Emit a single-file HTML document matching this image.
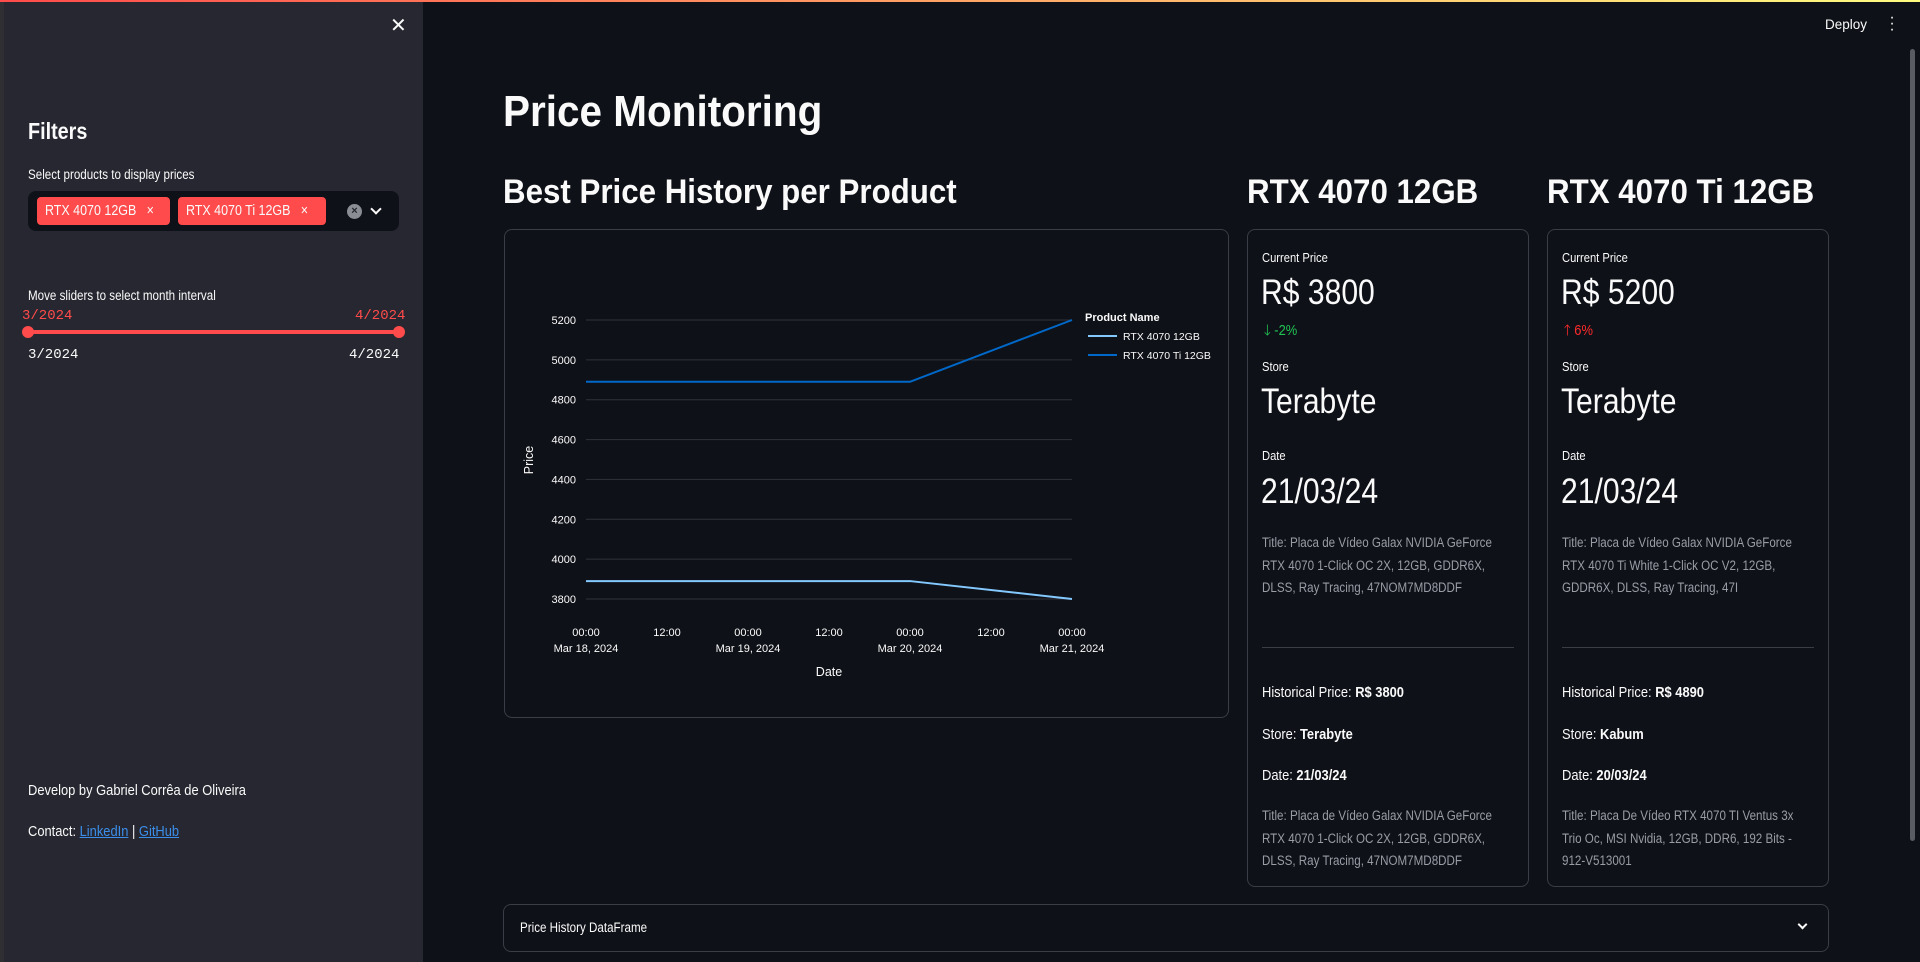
<!DOCTYPE html>
<html><head><meta charset="utf-8">
<style>
*{box-sizing:border-box;margin:0;padding:0}
body{width:1920px;height:962px;overflow:hidden;background:#0e1117;font-family:"Liberation Sans",sans-serif;color:#fafafa;position:relative}
.a{position:absolute;white-space:nowrap}
.c{display:inline-block;transform:scaleX(0.86);transform-origin:left center}
.h .c{transform:scaleX(0.92)}
.card{position:absolute;border:1px solid #3a3d46;border-radius:8px}
.mono{font-family:"Liberation Mono",monospace;font-size:14px}
</style></head><body>
<div class="a" style="left:0;top:0;width:1920px;height:2px;background:linear-gradient(90deg,#ff4b4b,#fffd80)"></div>
<div class="a" style="left:0;top:2px;width:423px;height:960px;background:#262730;border-left:4px solid #2e2e33"></div>
<div class="a" style="left:390px;top:13px;font-size:20px;color:#fafafa">✕</div>
<div class="a" style="left:28px;top:118px;font-size:23px;font-weight:bold"><span class="c">Filters</span></div>
<div class="a" style="left:28px;top:167px;font-size:13.5px"><span class="c">Select products to display prices</span></div>
<div class="a" style="left:28px;top:191px;width:371px;height:40px;background:#0e1117;border-radius:8px"></div>
<div class="a" style="left:37px;top:197px;width:133px;height:28px;background:#ff4b4b;border-radius:4px;font-size:14.5px;line-height:28px;padding-left:8px"><span class="c">RTX 4070 12GB <span style="margin-left:8px">×</span></span></div>
<div class="a" style="left:178px;top:197px;width:148px;height:28px;background:#ff4b4b;border-radius:4px;font-size:14.5px;line-height:28px;padding-left:8px"><span class="c">RTX 4070 Ti 12GB <span style="margin-left:8px">×</span></span></div>
<div class="a" style="left:347px;top:204px;width:15px;height:15px;border-radius:50%;background:#8b8d95;color:#262730;font-size:11px;line-height:15px;text-align:center;font-weight:bold">×</div>
<div class="a" style="left:372px;top:205px;width:8px;height:8px;border-right:2px solid #fafafa;border-bottom:2px solid #fafafa;transform:rotate(45deg)"></div>
<div class="a" style="left:28px;top:288px;font-size:13.5px"><span class="c">Move sliders to select month interval</span></div>
<div class="a mono" style="left:22px;top:308px;color:#ff4b4b">3/2024</div>
<div class="a mono" style="left:355px;top:308px;color:#ff4b4b">4/2024</div>
<div class="a" style="left:28px;top:330px;width:371px;height:4px;background:#ff4b4b;border-radius:2px"></div>
<div class="a" style="left:22px;top:326px;width:12px;height:12px;border-radius:50%;background:#ff4b4b"></div>
<div class="a" style="left:393px;top:326px;width:12px;height:12px;border-radius:50%;background:#ff4b4b"></div>
<div class="a mono" style="left:28px;top:347px">3/2024</div>
<div class="a mono" style="left:349px;top:347px">4/2024</div>
<div class="a" style="left:28px;top:782px;font-size:15px"><span class="c">Develop by Gabriel Corrêa de Oliveira</span></div>
<div class="a" style="left:28px;top:823px;font-size:15px"><span class="c">Contact: <span style="color:#3b8eea;text-decoration:underline">LinkedIn</span> | <span style="color:#3b8eea;text-decoration:underline">GitHub</span></span></div>

<div class="a" style="left:1825px;top:17px;font-size:13.5px">Deploy</div>
<div class="a" style="left:1889px;top:15px;font-size:16px;line-height:6px;width:6px;text-align:center">·<br>·<br>·</div>
<div class="a" style="left:1910px;top:49px;width:5px;height:792px;background:#5a5c63;border-radius:3px"></div>

<div class="a h" style="left:503px;top:87px;font-size:44px;font-weight:bold"><span class="c">Price Monitoring</span></div>
<div class="a h" style="left:503px;top:173px;font-size:34px;font-weight:bold"><span class="c">Best Price History per Product</span></div>
<div class="a h" style="left:1247px;top:173px;font-size:34px;font-weight:bold"><span class="c">RTX 4070 12GB</span></div>
<div class="a h" style="left:1547px;top:173px;font-size:34px;font-weight:bold"><span class="c">RTX 4070 Ti 12GB</span></div>

<div class="card" style="left:504px;top:229px;width:725px;height:489px">
<svg id="chart" width="725" height="489" style="position:absolute;left:-1px;top:-1px" font-family="Liberation Sans, sans-serif"></svg>
</div>

<div class="card" style="left:1247px;top:229px;width:282px;height:658px"></div>
<div class="card" style="left:1547px;top:229px;width:282px;height:658px"></div>

<div id="cards"></div>

<div class="card" style="left:503px;top:904px;width:1326px;height:48px"></div>
<div class="a" style="left:520px;top:920px;font-size:13.5px"><span class="c">Price History DataFrame</span></div>
<div class="a" style="left:1799px;top:921px;width:7px;height:7px;border-right:2px solid #fafafa;border-bottom:2px solid #fafafa;transform:rotate(45deg)"></div>

<script>
const dates = ["2024-03-18","2024-03-19","2024-03-20","2024-03-21"];
const series4070 = [3890,3890,3890,3800];
const series4070Ti = [4890,4890,4890,5200];
const yTicks = [3800,4000,4200,4400,4600,4800,5000,5200];
const xTickTimes = ["00:00","12:00","00:00","12:00","00:00","12:00","00:00"];
const xTickDates = ["Mar 18, 2024","","Mar 19, 2024","","Mar 20, 2024","","Mar 21, 2024"];
const seriesNames = ["RTX 4070 12GB","RTX 4070 Ti 12GB"];

const NS="http://www.w3.org/2000/svg";
const svg=document.getElementById('chart');
const X0=82,X1=568,Y0=370,Y1=91;
const t0=Date.parse(dates[0]),t1=Date.parse(dates[dates.length-1]);
function xs(t){return X0+(t-t0)/(t1-t0)*(X1-X0);}
function ys(v){return Y0-(v-3800)/(5200-3800)*(Y0-Y1);}
function mk(tag,attrs){const e=document.createElementNS(NS,tag);for(const k in attrs)e.setAttribute(k,attrs[k]);svg.appendChild(e);return e;}
yTicks.forEach(v=>{
  const g=mk('line',{x1:X0,x2:X1,y1:ys(v),y2:ys(v),stroke:'#31333c','stroke-width':1});
  
  
  const t=mk('text',{x:X0-10,y:ys(v)+4,'text-anchor':'end','font-size':11,fill:'#fafafa'});
  
  
  t.textContent=v;
});
xTickTimes.forEach((s,i)=>{
  const t=t0+i*12*3600*1000;
  const a=mk('text',{x:xs(t),y:407,'text-anchor':'middle','font-size':11,fill:'#fafafa'});
  
  
  a.textContent=s;
  if(xTickDates[i]){
    const b=mk('text',{x:xs(t),y:423,'text-anchor':'middle','font-size':11,fill:'#fafafa'});
    
    
    b.textContent=xTickDates[i];
  }
});
function line(vals,color,name){
  const pts=vals.map((v,i)=>xs(Date.parse(dates[i]))+','+ys(v)).join(' ');
  const p=mk('polyline',{points:pts,fill:'none',stroke:color,'stroke-width':2});
  
  
}
line(series4070,'#83c9ff','line-rtx-4070');
line(series4070Ti,'#0068c9','line-rtx-4070-ti');
const xt=mk('text',{x:325,y:447,'text-anchor':'middle','font-size':12.5,fill:'#fafafa'});


xt.textContent='Date';
const yt=mk('text',{x:0,y:0,'text-anchor':'middle','font-size':12.5,fill:'#fafafa',transform:'translate(29,231) rotate(-90)'});


yt.textContent='Price';
const lt=mk('text',{x:581,y:92,'font-size':11,fill:'#fafafa','font-weight':'bold'});


lt.textContent='Product Name';
[['#83c9ff',107],['#0068c9',126]].forEach((c,i)=>{
  const l=mk('line',{x1:584,x2:613,y1:c[1],y2:c[1],stroke:c[0],'stroke-width':2});
  
  
  const t=mk('text',{x:619,y:c[1]+4,'font-size':10.5,fill:'#fafafa'});
  
  
  t.textContent=seriesNames[i];
});

const cardsData=[
 {x:1262,price:'R$ 3800',delta:'🡓 -2%',dc:'#21c354',store:'Terabyte',date:'21/03/24',
  t1:['Title: Placa de Vídeo Galax NVIDIA GeForce','RTX 4070 1-Click OC 2X, 12GB, GDDR6X,','DLSS, Ray Tracing, 47NOM7MD8DDF'],
  hp:'R$ 3800',hs:'Terabyte',hd:'21/03/24',
  t2:['Title: Placa de Vídeo Galax NVIDIA GeForce','RTX 4070 1-Click OC 2X, 12GB, GDDR6X,','DLSS, Ray Tracing, 47NOM7MD8DDF']},
 {x:1562,price:'R$ 5200',delta:'🡑 6%',dc:'#ff2b2b',store:'Terabyte',date:'21/03/24',
  t1:['Title: Placa de Vídeo Galax NVIDIA GeForce','RTX 4070 Ti White 1-Click OC V2, 12GB,','GDDR6X, DLSS, Ray Tracing, 47I'],
  hp:'R$ 4890',hs:'Kabum',hd:'20/03/24',
  t2:['Title: Placa De Vídeo RTX 4070 TI Ventus 3x','Trio Oc, MSI Nvidia, 12GB, DDR6, 192 Bits -','912-V513001']}
];
const host=document.getElementById('cards');
function add(html,x,y,style,name){
  const d=document.createElement('div');
  d.className='a';
  d.style.cssText='left:'+x+'px;top:'+y+'px;'+style;
  d.innerHTML='<span class="c">'+html+'</span>';
  
  
  host.appendChild(d);
}
cardsData.forEach(c=>{
  add('Current Price',c.x,250,'font-size:13px','current-price-label');
  add(c.price,c.x-1,273,'font-size:35px','current-price-value');
  add(c.delta,c.x+2,320,'font-size:15px;color:'+c.dc,'price-delta');
  add('Store',c.x,359,'font-size:13px','store-label');
  add(c.store,c.x-1,382,'font-size:35px','store-value');
  add('Date',c.x,448,'font-size:13px','date-label');
  add(c.date,c.x-1,472,'font-size:35px','date-value');
  add(c.t1.join('<br>'),c.x,532,'font-size:13.5px;color:#9a9da6;line-height:22.6px','product-title');
  const hr=document.createElement('div');
  hr.className='a';
  hr.style.cssText='left:'+c.x+'px;top:647px;width:252px;height:1px;background:#3a3d46';
  
  
  host.appendChild(hr);
  add('Historical Price: <b>'+c.hp+'</b>',c.x,684,'font-size:15px','historical-price');
  add('Store: <b>'+c.hs+'</b>',c.x,726,'font-size:15px','historical-store');
  add('Date: <b>'+c.hd+'</b>',c.x,767,'font-size:15px','historical-date');
  add(c.t2.join('<br>'),c.x,805,'font-size:13.5px;color:#9a9da6;line-height:22.6px','historical-title');
});
</script>
</body></html>
